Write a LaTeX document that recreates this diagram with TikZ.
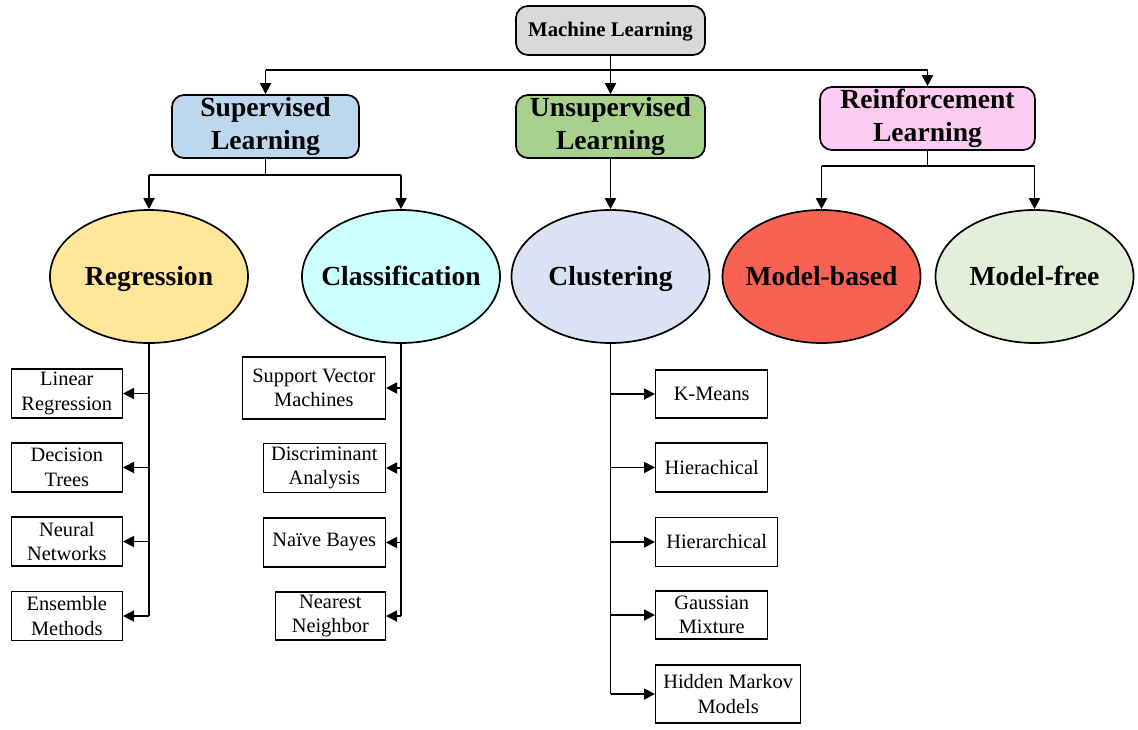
\documentclass[tikz,border=0pt]{standalone}
\usepackage{fontspec}
\setmainfont{Liberation Serif}
\usepackage{xcolor}
\usetikzlibrary{shapes.geometric,arrows.meta}

\definecolor{mlgray}{HTML}{D9D9D9}
\definecolor{supblue}{HTML}{BDD7EE}
\definecolor{unsgreen}{HTML}{A9D18E}
\definecolor{rlpink}{HTML}{FCCBF2}
\definecolor{regyellow}{HTML}{FFE699}
\definecolor{clscyan}{HTML}{CCFFFF}
\definecolor{clulav}{HTML}{DAE3F3}
\definecolor{mbred}{HTML}{F96152}
\definecolor{mfgreen}{HTML}{E2F0D9}

\begin{document}
\begin{tikzpicture}[x=0.5pt, y=-0.5pt,
  root/.style={draw, rounded corners=6pt, line width=0.85pt, fill=mlgray,
    minimum width=94.5pt, minimum height=24.5pt, inner sep=1pt,
    text height=8.2pt, text depth=2pt,
    font=\fontsize{10.4}{12.5}\selectfont\bfseries},
  branch/.style={draw, rounded corners=6pt, line width=0.85pt,
    minimum height=31.5pt, inner sep=1pt, align=center,
    font=\fontsize{13.8}{16.4}\selectfont\bfseries},
  family/.style={draw, ellipse, line width=0.85pt, minimum width=99pt,
    minimum height=66.5pt, inner xsep=-12pt, inner ysep=0pt,
    text height=12pt, text depth=3pt,
    font=\fontsize{13.8}{16.4}\selectfont\bfseries},
  algo/.style={draw, line width=0.7pt, minimum height=24.5pt, inner sep=1pt,
    align=center, font=\fontsize{10.2}{12.2}\selectfont},
  arrow/.style={-{Triangle[length=5.5pt,width=5.5pt]}, line width=0.9pt},
  link/.style={line width=0.9pt}
]
\useasboundingbox (0,0) rectangle (1138,729);

\node[root] (ml) at (610.5,30.5) {Machine Learning};

\node[branch, fill=supblue, minimum width=93.5pt] (sup) at (265.5,126.5) {Supervised\\Learning};
\node[branch, fill=unsgreen, minimum width=94.5pt] (usl) at (610.5,126.5) {Unsupervised\\Learning};
\node[branch, fill=rlpink, minimum width=107.5pt] (rl) at (927.5,118.5) {Reinforcement\\Learning};

\node[family, fill=regyellow] (reg) at (149,276.5) {Regression};
\node[family, fill=clscyan] (cls) at (401,276.5) {Classification};
\node[family, fill=clulav] (clu) at (610.5,276.5) {Clustering};
\node[family, fill=mbred] (mb) at (821.5,276.5) {Model-based};
\node[family, fill=mfgreen] (mf) at (1034.5,276.5) {Model-free};

% regression methods
\node[algo, anchor=east, minimum width=55.5pt] (linreg) at (123,393.5) {Linear\\Regression};
\node[algo, anchor=east, minimum width=55.5pt] (dtree) at (123,467.5) {Decision\\Trees};
\node[algo, anchor=east, minimum width=55.5pt] (nnet) at (123,541.5) {Neural\\Networks};
\node[algo, anchor=east, minimum width=55.5pt] (ens) at (123,616) {Ensemble\\Methods};

% classification methods
\node[algo, anchor=east, minimum width=71.5pt, minimum height=31pt] (svm) at (386,388) {Support Vector\\Machines};
\node[algo, anchor=east, minimum width=61pt] (disc) at (386,468) {Discriminant\\Analysis};
\node[algo, anchor=east, minimum width=61pt] (nbayes) at (386,542.5) {Naïve Bayes};
\node[algo, anchor=east, minimum width=55pt, minimum height=24pt] (knn) at (386,616) {Nearest\\Neighbor};

% clustering methods
\node[algo, anchor=west, minimum width=56pt, minimum height=24pt] (kmeans) at (655,394) {K-Means};
\node[algo, anchor=west, minimum width=56pt] (hier1) at (655,467.5) {Hierachical};
\node[algo, anchor=west, minimum width=61pt] (hier2) at (655,542) {Hierarchical};
\node[algo, anchor=west, minimum width=56pt, minimum height=24pt] (gmm) at (655,615) {Gaussian\\Mixture};
\node[algo, anchor=west, minimum width=72.5pt, minimum height=29pt] (hmm) at (655,694) {Hidden Markov\\Models};

% top level
\coordinate (bus) at (610.5,70);
\draw[link] (ml.south) -- (bus);
\draw[link] (bus -| sup.north) -- (bus -| rl.north);
\draw[arrow] (bus -| sup.north) -- (sup.north);
\draw[arrow] (bus) -- (usl.north);
\draw[arrow] (bus -| rl.north) -- (rl.north);

% second level
\coordinate (sbus) at (265.5,175);
\draw[link] (sup.south) -- (sbus);
\draw[link] (sbus -| reg.north) -- (sbus -| cls.north);
\draw[arrow] (sbus -| reg.north) -- (reg.north);
\draw[arrow] (sbus -| cls.north) -- (cls.north);
\draw[arrow] (usl.south) -- (clu.north);
\coordinate (rbus) at (927.5,166);
\draw[link] (rl.south) -- (rbus);
\draw[link] (rbus -| mb.north) -- (rbus -| mf.north);
\draw[arrow] (rbus -| mb.north) -- (mb.north);
\draw[arrow] (rbus -| mf.north) -- (mf.north);

% trunks
\draw[link] (reg.south) -- (reg.south |- ens.east);
\foreach \n in {linreg,dtree,nnet,ens}
  \draw[arrow] (reg.south |- \n.east) -- (\n.east);
\draw[link] (cls.south) -- (cls.south |- knn.east);
\foreach \n in {svm,disc,nbayes,knn}
  \draw[arrow] (cls.south |- \n.east) -- (\n.east);
\draw[link] (clu.south) -- (clu.south |- hmm.west);
\foreach \n in {kmeans,hier1,hier2,gmm,hmm}
  \draw[arrow] (clu.south |- \n.west) -- (\n.west);
\end{tikzpicture}
\end{document}
